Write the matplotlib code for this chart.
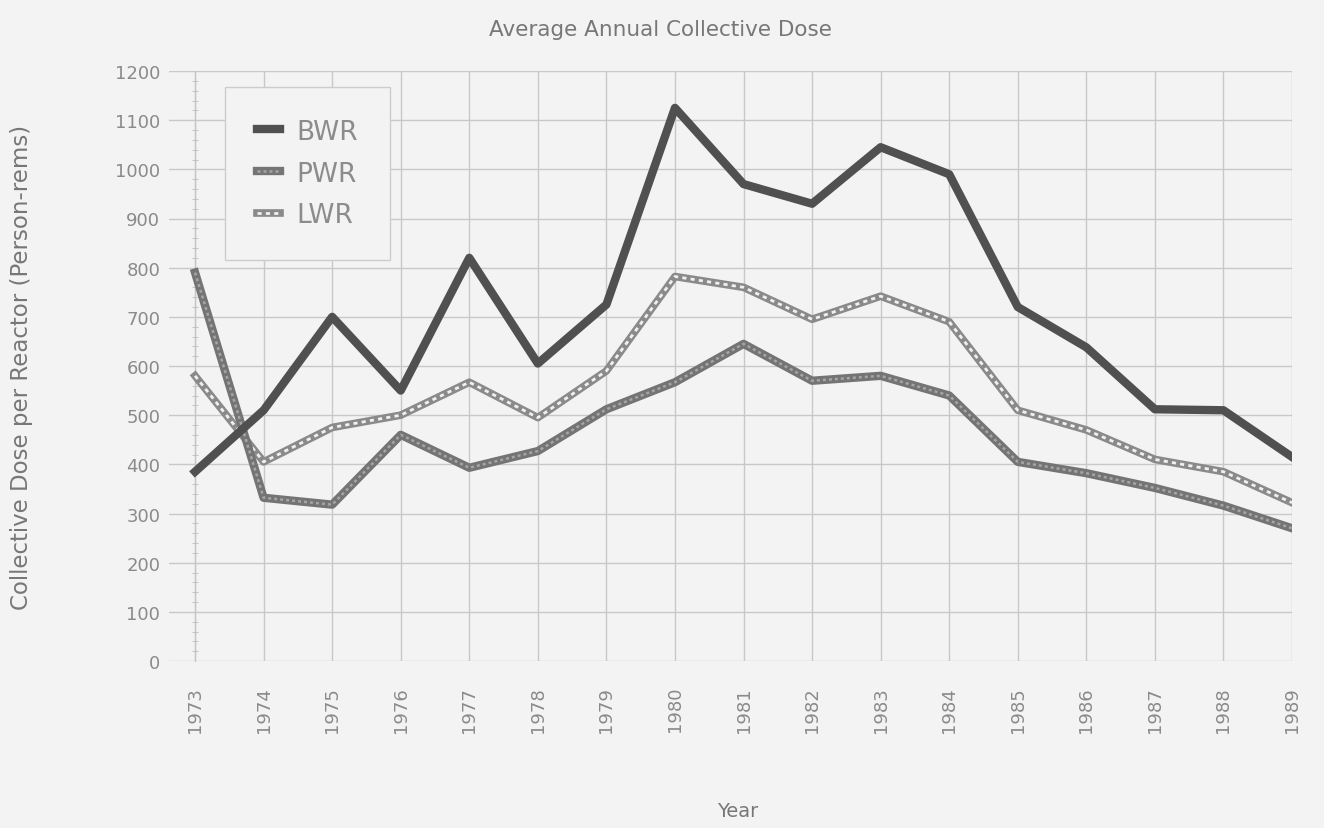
import matplotlib
matplotlib.use('Agg')
import matplotlib.pyplot as plt
from matplotlib.ticker import MultipleLocator

plt.rcParams['font.family'] = ['DejaVu Sans']

years = list(range(1973, 1990))
bwr = [385, 510, 700, 550, 820, 605, 725, 1125, 970, 930, 1045, 990, 720, 638, 512, 510, 415]
pwr = [790, 332, 318, 460, 393, 427, 512, 567, 645, 570, 580, 540, 405, 382, 352, 316, 270]
lwr = [580, 405, 475, 500, 567, 495, 590, 782, 760, 695, 742, 690, 510, 470, 410, 385, 322]
series_names = ['BWR', 'PWR', 'LWR']

bg = '#f3f3f3'
txt = '#777777'

fig = plt.figure(figsize=(13.24, 8.29), dpi=100, facecolor=bg)
ax = fig.add_axes([169 / 1324, 1 - 662 / 829, (1292 - 169) / 1324, (662 - 72) / 829])
ax.set_facecolor(bg)

ax.set_xlim(1972.62, 1989)
ax.set_ylim(0, 1200)
ax.set_xticks(years)
ax.set_xticklabels([str(y) for y in years], rotation=90)
ax.yaxis.set_major_locator(MultipleLocator(100))
ax.yaxis.set_minor_locator(MultipleLocator(20))

for s in ['top', 'right', 'bottom']:
    ax.spines[s].set_visible(False)
ax.spines['left'].set_position(('data', 1973))
ax.spines['left'].set_color('#c4c4c4')

ax.grid(True, which='major', color='#c8c8c8', lw=1)
ax.tick_params(axis='x', length=0, pad=18, labelsize=13, labelcolor='#8a8a8a')
ax.tick_params(axis='y', which='major', length=0, pad=25, labelsize=13, labelcolor='#8a8a8a')
ax.tick_params(axis='y', which='minor', length=5, direction='inout', color='#bbbbbb')

# lines (PWR and LWR drawn twice for the textured look)
l1, = ax.plot(years, bwr, color='#505050', lw=6, zorder=5)
l2a, = ax.plot(years, pwr, color='#747474', lw=6, zorder=4)
l2b, = ax.plot(years, pwr, color='#a5a5a5', lw=1.8, dashes=(1.2, 1.2), zorder=4)
l3a, = ax.plot(years, lwr, color='#8a8a8a', lw=5.5, zorder=3)
l3b, = ax.plot(years, lwr, color='#f0f0f0', lw=2, dashes=(1.5, 1.5), zorder=3)

leg = ax.legend([(l1,), (l2a, l2b), (l3a, l3b)], series_names,
                loc='upper left', bbox_to_anchor=(225 / 1324, 1 - 88 / 829),
                bbox_transform=fig.transFigure, fontsize=19, handlelength=0.9,
                handletextpad=0.6, labelspacing=0.6, borderpad=1.2,
                borderaxespad=0, frameon=True, fancybox=False)
leg.get_frame().set_facecolor(bg)
leg.get_frame().set_edgecolor('#cccccc')
leg.get_frame().set_alpha(1)
for t in leg.get_texts():
    t.set_color('#8c8c8c')

fig.text(660 / 1324, 1 - 30 / 829, 'Average Annual Collective Dose', ha='center', va='center',
         fontsize=15.5, color=txt)
fig.text(22 / 1324, 1 - 367 / 829, 'Collective Dose per Reactor (Person-rems)', ha='center',
         va='center', rotation=90, fontsize=16.5, color=txt)
fig.text(738 / 1324, 1 - 812 / 829, 'Year', ha='center', va='center', fontsize=14, color=txt)

fig.savefig('out.png', dpi=100, facecolor=bg)
